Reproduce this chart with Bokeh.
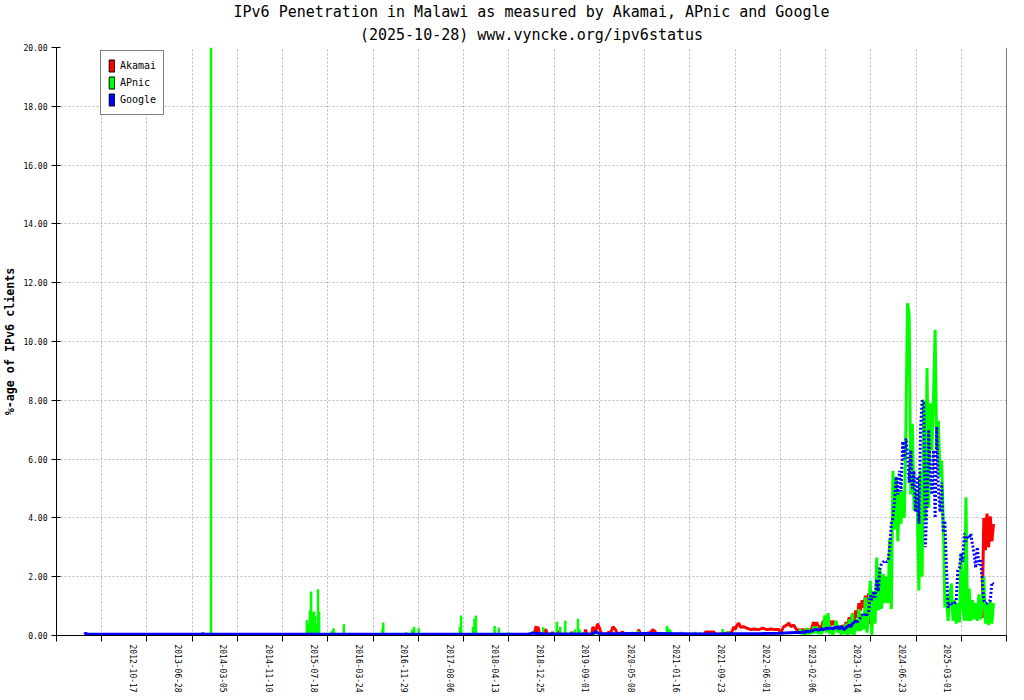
from bokeh.embed import file_html
from bokeh.models import (FixedTicker, Legend, LegendItem, PrintfTickFormatter, Range1d,
                          Span, Title)
from bokeh.plotting import figure
from bokeh.resources import INLINE

FONT = "DejaVu Sans Mono"
RED, GREEN, BLUE = "#ff0000", "#00ff00", "#0000ff"
NAN = float("nan")

# x positions are days on the chart's (index based) axis, counted from 2012-10-17
AXIS_LABELS = ["2012-10-17", "2013-06-28", "2014-03-05", "2014-11-10", "2015-07-18",
               "2016-03-24", "2016-11-29", "2017-08-06", "2018-04-13", "2018-12-25",
               "2019-09-01", "2020-05-08", "2021-01-16", "2021-09-23", "2022-06-01",
               "2023-02-06", "2023-10-14", "2024-06-23", "2025-03-01"]
LABEL_STEP = 251
Y_TICKS = [0, 2, 4, 6, 8, 10, 12, 14, 16, 18, 20]

# Akamai, 2018-12 .. 2023-01 (day, %)
akamai_day = [2223, 2242, 2248, 2253, 2259, 2267, 2296, 2299, 2304, 2307, 2334, 2339, 2345,
              2373, 2378, 2383, 2439, 2445, 2450, 2517, 2523, 2528, 2556, 2564, 2573, 2581,
              2589, 2600, 2611, 2645, 2650, 2661, 2675, 2689, 2700, 2728, 2739, 2780, 2812,
              2817, 2828, 2884, 2895, 2906, 2917, 3178, 3189, 3233, 3245, 3333, 3345, 3353,
              3361, 3372, 3383, 3400, 3417, 3439, 3461, 3483, 3505, 3528, 3550, 3572, 3594,
              3605, 3622, 3639, 3650, 3661, 3677, 3694]
akamai_pct = [0.03, 0.15, 0.32, 0.1, 0.3, 0.03, 0.03, 0.19, 0.19, 0.03, 0.03, 0.12, 0.03,
              0.03, 0.17, 0.03, 0.03, 0.12, 0.03, 0.03, 0.2, 0.03, 0.03, 0.3, 0.15, 0.2,
              0.4, 0.25, 0.03, 0.03, 0.12, 0.08, 0.3, 0.2, 0.03, 0.12, 0.03, 0.08, 0.03,
              0.2, 0.03, 0.1, 0.2, 0.15, 0.03, 0.03, 0.12, 0.12, 0.03, 0.1, 0.3, 0.2,
              0.34, 0.42, 0.28, 0.3, 0.25, 0.2, 0.22, 0.2, 0.25, 0.2, 0.22, 0.2, 0.2,
              0.1, 0.3, 0.35, 0.43, 0.3, 0.35, 0.2]

# APnic single days before the dense part (day, %)
apnic_spike_day = [444, 976, 982, 988, 993, 999, 1005, 1010, 1016, 1022, 1026, 1031, 1038,
                   1044, 1115, 1124, 1132, 1181, 1274, 1290, 1395, 1400, 1527, 1561, 1571,
                   1597, 1825, 1832, 1898, 1906, 1914, 2018, 2041, 2095, 2229, 2287, 2323,
                   2363, 2382, 2410, 2451, 2462, 2480, 2490, 2513, 2577, 2716, 2780, 2813,
                   2974, 2981, 2992, 3054, 3132, 3156, 3283, 3311, 3400, 3605]
apnic_spike_pct = [20.0, 0.53, 0.4, 0.1, 0.85, 1.5, 0.78, 0.4, 0.82, 0.65, 0.34, 0.27, 1.57,
                   0.8, 0.15, 0.25, 0.1, 0.38, 0.06, 0.06, 0.22, 0.44, 0.11, 0.2, 0.3,
                   0.25, 0.3, 0.68, 0.3, 0.57, 0.68, 0.32, 0.27, 0.11, 0.15, 0.28, 0.11,
                   0.47, 0.3, 0.5, 0.12, 0.2, 0.57, 0.2, 0.12, 0.15, 0.13, 0.11, 0.17,
                   0.32, 0.25, 0.2, 0.13, 0.13, 0.1, 0.22, 0.15, 0.1, 0.13]

# Google before the dense part (day, %)
google_early_day = [-259, -250, -242, 395, 400, 405, 2200, 2230, 2300, 2560, 2580, 2600,
                    2900, 3200, 3500, 3600, 3690]
google_early_pct = [0.04, 0.08, 0.04, 0.04, 0.07, 0.04, 0.04, 0.08, 0.05, 0.06, 0.12, 0.06,
                    0.07, 0.05, 0.07, 0.08, 0.1]

# dense part, one sample every LATE_STEP days from LATE_START
LATE_START = 3706
LATE_STEP = 9
apnic_late_pct = [0.05, 0.2, 0.05, 0.15, 0.02, 0.25, 0.05, 0.2, 0.05, 0.3,
                  0.08, 0.3, 0.05, 0.2, 0.05, 0.25, 0.68, 0.1, 0.76, 0.05,
                  0.3, 0.02, 0.2, 0.5, 0.1, 0.35, 0.0, 0.3, 0.05, 0.4,
                  0.0, 0.55, 0.05, 0.75, 0.0, 0.5, 0.15, 0.9, 0.15, 0.74,
                  0.2, 1.3, 0.1, 0.85, 1.87, 0.0, 1.5, 0.4, 2.65, 0.85,
                  2.3, 0.9, 2.1, 1.1, 2.0, 1.1, 3.3, 0.9, 5.6, 3.6,
                  5.4, 3.2, 4.9, 3.8, 4.9, 4.0, 7.1, 11.3, 10.9, 4.8,
                  7.2, 4.25, 4.9, 4.3, 1.53, 5.6, 2.0, 8.0, 3.9, 9.1,
                  4.35, 7.9, 6.3, 8.16, 10.4, 6.3, 7.3, 5.4, 5.95, 3.9,
                  0.95, 1.4, 0.5, 1.3, 1.77, 0.5, 1.2, 0.4, 1.1, 0.45,
                  2.8, 1.0, 0.5, 4.7, 0.5, 1.6, 0.5, 1.2, 0.55, 1.1,
                  0.5, 1.4, 0.55, 1.1, 2.0, 0.4, 1.1, 0.35, 1.2, 0.4,
                  1.1]
google_late_pct = [0.1, 0.1, 0.12, 0.1, 0.12, 0.15, 0.12, 0.15, 0.15, 0.18,
                   0.2, 0.2, 0.18, 0.2, 0.22, 0.2, 0.22, 0.25, 0.22, 0.25,
                   0.25, 0.22, 0.28, 0.25, 0.3, 0.22, 0.3, 0.25, 0.2, 0.27,
                   0.3, 0.35, 0.3, 0.4, 0.45, 0.5, 0.45, 0.55, 0.6, 0.7,
                   0.65, 0.75, 0.7, 0.8, 1.36, 1.2, 1.5, 1.3, 1.9, 1.5,
                   2.3, 2.45, 2.5, 2.55, 2.5, 2.55, 3.0, 3.8, 4.0, 4.6,
                   5.4, 4.8, 5.6, 4.9, 6.6, 6.0, 6.7, 6.2, 5.2, 6.3,
                   5.0, 5.6, 4.2, 5.4, 3.8, 7.0, 8.0, 7.9, 3.0, 4.5,
                   7.0, 5.5, 4.8, 6.3, 4.0, 7.1, 5.0, 4.2, 5.2, 3.5,
                   3.9, 2.3, 0.95, 1.1, 1.1, 1.05, 1.1, 1.2, 2.2, 2.3,
                   2.8, 2.5, 3.47, 3.2, 3.4, 3.3, 3.47, 3.1, 2.8, 2.3,
                   3.0, 2.4, 2.6, 1.9, 1.2, 1.1, 1.1, 1.15, 1.2, 1.8,
                   1.75]
akamai_late_pct = [0.19, 0.19, 0.2, 0.19, 0.19, 0.2, 0.19, 0.19, 0.25, 0.45,
                   0.3, 0.45, 0.3, 0.3, 0.28, 0.5, 0.35, 0.54, 0.4, 0.5,
                   0.35, 0.5, 0.38, 0.34, 0.2, 0.3, 0.15, 0.35, 0.2, 0.45,
                   0.35, 0.62, 0.4, 0.75, 0.5, 0.85, 0.6, 1.1, 0.85, 1.2,
                   0.95, 1.35, 1.1, 1.43, 0.4]
# Akamai comes back near the end of the dense part
AKAMAI_TAIL_FROM = 113
akamai_tail_pct = [0.6, 4.0, 2.9, 4.15, 3.0, 4.05, 3.2, 3.8]

late_day = [LATE_START + LATE_STEP * i for i in range(len(apnic_late_pct))]
# the rotated labels sit a little left of each tick mark
label_day = [LABEL_STEP * i + 14 for i in range(len(AXIS_LABELS))]
tick_day = [LABEL_STEP * (k - 2) + 89 for k in range(22)]

p = figure(frame_width=950, frame_height=588, output_backend="svg", toolbar_location=None,
           x_range=Range1d(tick_day[0], tick_day[-1]), y_range=Range1d(0, 20),
           min_border_left=50, min_border_right=8, min_border_top=39, min_border_bottom=0,
           background_fill_color="white", border_fill_color="white")
p.outline_line_color = None

# the title object added last sits closest to the frame
p.title.text = "IPv6 Penetration in Malawi as measured by Akamai, APnic and Google"
p.title.align = "center"
p.title.text_font = FONT
p.title.text_font_size = "15px"
p.title.text_font_style = "normal"
p.title.text_color = "black"
p.title.standoff = 0
p.add_layout(Title(text="(2025-10-28) www.vyncke.org/ipv6status", align="center",
                   text_font=FONT, text_font_size="15px", text_font_style="normal",
                   text_color="black", standoff=7), "above")

# y axis
ya = p.yaxis[0]
ya.ticker = FixedTicker(ticks=Y_TICKS)
ya.formatter = PrintfTickFormatter(format="%.2f")
ya.axis_label = "%-age of IPv6 clients"
ya.axis_label_text_font = FONT
ya.axis_label_text_font_style = "bold"
ya.axis_label_text_font_size = "11.7px"
ya.axis_label_text_color = "black"
ya.axis_label_standoff = 3
ya.major_label_text_font = FONT
ya.major_label_text_font_size = "8px"
ya.major_label_text_color = "black"
ya.major_label_standoff = 4
ya.major_tick_in = 4
ya.major_tick_out = 5
ya.minor_tick_in = 0
ya.minor_tick_out = 0

# x axis: labels on the major ticks, the tick marks themselves are the minor ticks
xa = p.xaxis[0]
xa.ticker = FixedTicker(ticks=label_day, minor_ticks=tick_day)
xa.major_label_overrides = dict(zip(label_day, AXIS_LABELS))
xa.major_label_orientation = "vertical"
xa.major_label_text_font = FONT
xa.major_label_text_font_size = "8px"
xa.major_label_text_color = "black"
xa.major_label_standoff = 3
xa.major_tick_in = 0
xa.major_tick_out = 0
xa.minor_tick_in = 0
xa.minor_tick_out = 6
xa.minor_tick_line_color = "black"

for g, ticks in ((p.xgrid[0], tick_day), (p.ygrid[0], Y_TICKS)):
    g.ticker = FixedTicker(ticks=ticks)
    g.grid_line_color = "#bbbbbb"
    g.grid_line_dash = "2 2"
    g.grid_line_width = 1

p.add_layout(Span(location=tick_day[-1], dimension="height", line_color="black", line_width=1))

# series: Akamai, APnic, Google (Google on top)
n_ak = len(akamai_late_pct)
p.line(akamai_day + late_day[:n_ak], akamai_pct + akamai_late_pct,
       line_color=RED, line_width=3)
p.line(late_day[AKAMAI_TAIL_FROM:AKAMAI_TAIL_FROM + len(akamai_tail_pct)], akamai_tail_pct,
       line_color=RED, line_width=3)

p.segment(x0=apnic_spike_day, y0=0, x1=apnic_spike_day, y1=apnic_spike_pct,
          line_color=GREEN, line_width=2.5)
p.line(late_day, apnic_late_pct, line_color=GREEN, line_width=3)

SOLID_UNTIL = 37
p.line(google_early_day + late_day[:SOLID_UNTIL], google_early_pct + google_late_pct[:SOLID_UNTIL],
       line_color=BLUE, line_width=3)
p.line(late_day[SOLID_UNTIL - 1:], google_late_pct[SOLID_UNTIL - 1:],
       line_color=BLUE, line_width=3, line_dash="2 2")

# legend with filled boxes (the boxes themselves draw nothing on the plot)
items = []
for name, col in (("Akamai", RED), ("APnic", GREEN), ("Google", BLUE)):
    r = p.quad(left=[NAN], right=[NAN], bottom=[NAN], top=[NAN], fill_color=col,
               line_color="black")
    items.append(LegendItem(label=name, renderers=[r]))
legend = Legend(items=items, location=(44, 520), border_line_color="black",
                background_fill_color="white", background_fill_alpha=1.0,
                padding=7, spacing=2, margin=0, glyph_width=7, glyph_height=15,
                label_height=15, label_standoff=5, label_text_font=FONT,
                label_text_font_size="10px", label_text_color="black")
p.add_layout(legend)

open("out.html", "w").write(file_html(p, INLINE, title="IPv6 Penetration in Malawi"))
